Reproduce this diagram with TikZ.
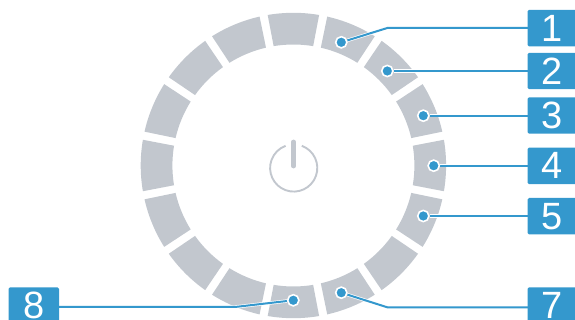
\documentclass[tikz,border=0pt]{standalone}
\usepackage{fontspec}
\setmainfont{Liberation Sans}
\usepackage{xcolor}
\definecolor{ledblue}{HTML}{3498CD}
\definecolor{ledgray}{HTML}{C2C7CE}
\usetikzlibrary{backgrounds}
\tikzset{
  numbox/.style ={fill=ledblue,text=white,rounded corners=1.5pt,inner sep=0pt,
                  minimum width=50pt,minimum height=36.4pt,
                  font=\fontsize{38}{38}\selectfont},
  leddot/.style ={circle,fill=ledblue,draw=white,line width=1.6pt,
                  minimum size=11.2pt,inner sep=0pt},
  lead/.style   ={draw=white,double=ledblue,double distance=2pt,line width=.7pt},
  segm/.style   ={fill=ledgray},
  powr/.style   ={draw=ledgray,line width=1.9pt},
}
\begin{document}
\begin{tikzpicture}[x=1pt,y=1pt]
\clip (0,0) rectangle (575,320);
\coordinate (ring) at (293.4,154.5);
% labels
\node[numbox] (lab1) at (552.5,291.85) {1};
\node[numbox] (lab2) at (552.5,249) {2};
\node[numbox] (lab3) at (552.5,204.5) {3};
\node[numbox] (lab4) at (552.5,154.1) {4};
\node[numbox] (lab5) at (552.5,103.8) {5};
\node[numbox] (lab7) at (552.5,14.5) {7};
\node[numbox,minimum width=50.3pt] (lab8) at (33.85,14.5) {8};
% lamps
\node[leddot] (dot1) at (341.3,277.7) {};
\node[leddot] (dot2) at (387.3,249) {};
\node[leddot] (dot3) at (423.3,204.3) {};
\node[leddot] (dot4) at (433.7,154.3) {};
\node[leddot] (dot5) at (423.3,104) {};
\node[leddot] (dot7) at (341.3,27.3) {};
\node[leddot] (dot8) at (293.3,19.7) {};
\coordinate (bend1) at (387.3,292);
\coordinate (bend7) at (387.3,12.7);
\coordinate (bend8) at (235,13);
% power symbol
\coordinate (powc) at (293.7,152);
\draw[powr,shift={(powc)}] (70:23.6) arc[start angle=70,end angle=-250,radius=23.6];
\coordinate (bartop) at (293.7,178);
\coordinate (barend) at (293.7,154);
\draw[powr,line width=4.8pt,line cap=round] (bartop) -- (barend);
\begin{pgfonlayer}{background}
% ring of segments
\foreach \a in {0,22.5,...,337.5}
  {\fill[segm,shift={(ring)}] (\a-9.4:121) arc[start angle=\a-9.4,end angle=\a+9.4,radius=121]
     -- (\a+9.7:152.7) arc[start angle=\a+9.7,end angle=\a-9.7,radius=152.7] -- cycle;}
% leaders
\foreach \d/\l in {dot2/lab2,dot3/lab3,dot4/lab4,dot5/lab5}
  {\draw[lead] (\d) -- (\l |- \d);}
\foreach \d/\b/\l in {dot1/bend1/lab1,dot7/bend7/lab7,dot8/bend8/lab8}
  {\draw[lead] (\d) -- (\b) -- (\l |- \b);}
\end{pgfonlayer}
\end{tikzpicture}
\end{document}
